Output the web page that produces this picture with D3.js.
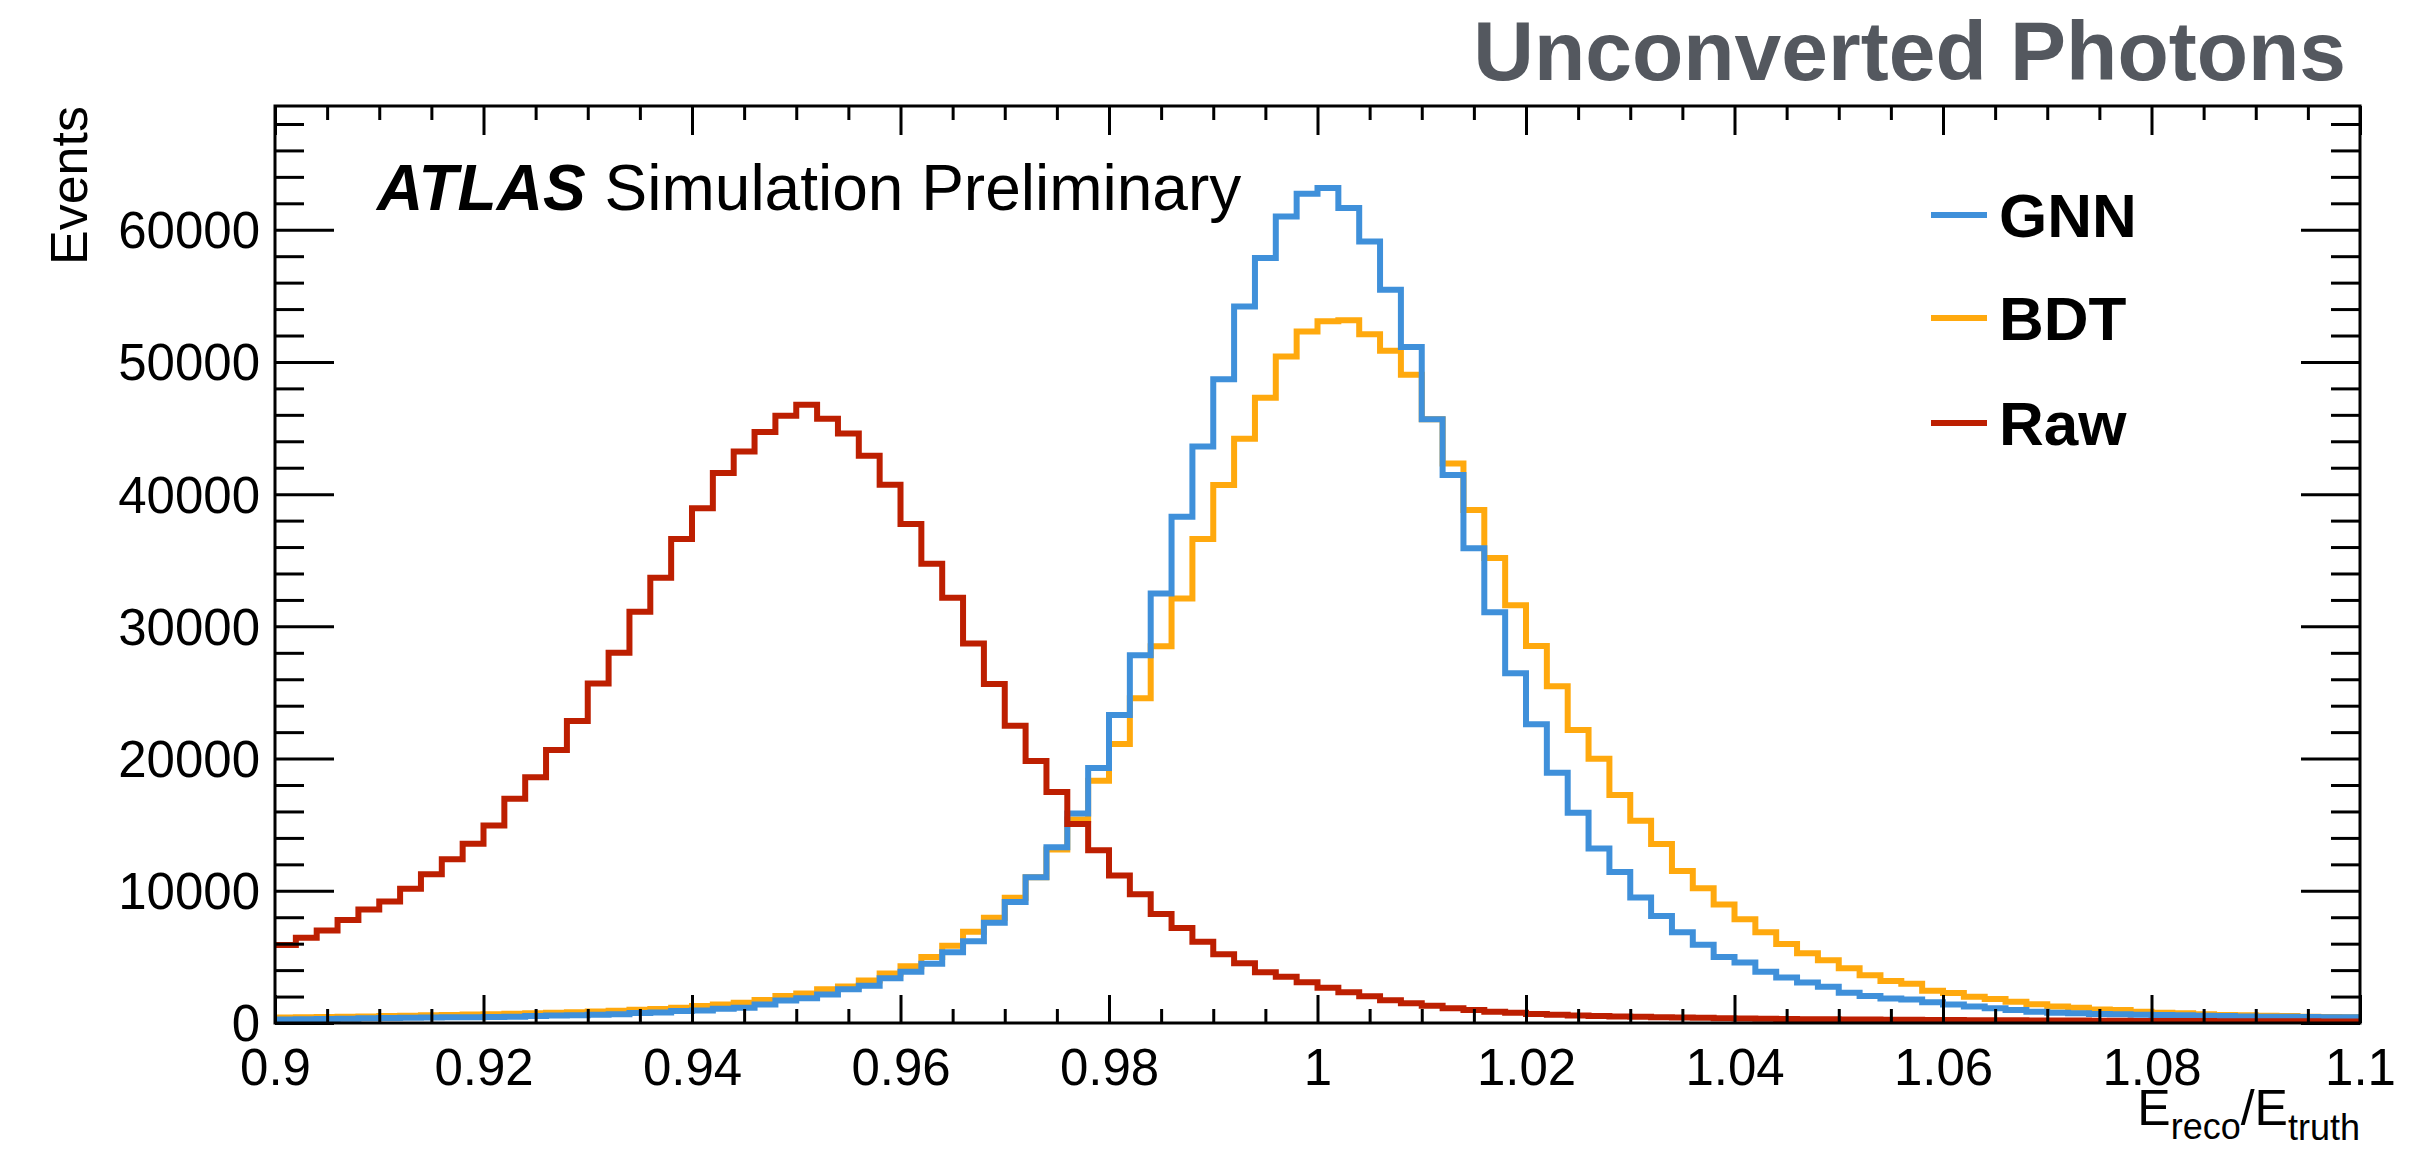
<!DOCTYPE html>
<html>
<head>
<meta charset="utf-8">
<script src="https://cdn.jsdelivr.net/npm/d3@7"></script>
<style>
  html, body { margin: 0; padding: 0; background: #ffffff; }
  svg text { font-family: "Liberation Sans", Arial, Helvetica, sans-serif; }
</style>
</head>
<body>
<svg id="chart" width="2412" height="1155"></svg>
<script>
// ---------------- data ----------------
const binStart = 0.9;
const binWidth = 0.002;
const nBins = 100;

const seriesNames = ["GNN", "BDT", "Raw"];
const seriesColors = ["#3f90da", "#ffa90e", "#bd1f01"];

const gnnValues = [
  270, 290, 310, 330, 350, 380, 400, 410, 430, 440,
  450, 470, 530, 560, 580, 630, 660, 760, 800, 900,
  950, 1070, 1150, 1400, 1700, 1880, 2160, 2550, 2810, 3390,
  3870, 4480, 5350, 6190, 7580, 9160, 11030, 13290, 15850, 19280,
  23300, 27820, 32480, 38300, 43600, 48700, 54200, 57860, 61010, 62730,
  63150, 61640, 59120, 55460, 51130, 45670, 41450, 35900, 31070, 26460,
  22590, 18920, 15900, 13190, 11430, 9500, 8090, 6860, 5910, 4990,
  4570, 3870, 3450, 3060, 2740, 2290, 2040, 1860, 1780, 1570,
  1390, 1240, 1110, 980, 860, 780, 730, 680, 660, 630,
  610, 580, 550, 530, 500, 480, 470, 450, 440, 430
];

const bdtValues = [
  420, 440, 460, 480, 500, 530, 550, 580, 610, 640,
  670, 700, 740, 780, 820, 870, 920, 1000, 1060, 1160,
  1280, 1400, 1540, 1740, 2040, 2230, 2550, 2760, 3220, 3750,
  4300, 5000, 5850, 6900, 7970, 9480, 11030, 13130, 15400, 18320,
  21100, 24570, 28500, 32100, 36600, 40700, 44200, 47300, 50420, 52310,
  53070, 53150, 52100, 50840, 49030, 45670, 42310, 38800, 35170, 31600,
  28520, 25470, 22160, 19980, 17240, 15300, 13540, 11500, 10200, 8970,
  7840, 6860, 5980, 5280, 4750, 4150, 3620, 3170, 2960, 2440,
  2260, 1990, 1820, 1610, 1410, 1240, 1160, 1030, 980, 860,
  780, 730, 660, 610, 580, 550, 530, 480, 450, 430
];

const rawValues = [
  5900, 6450, 7000, 7800, 8580, 9190, 10160, 11260, 12390, 13550,
  14940, 16970, 18580, 20650, 22840, 25680, 28000, 31100, 33680, 36610,
  38940, 41610, 43230, 44700, 45940, 46770, 45710, 44580, 42900, 40710,
  37740, 34740, 32160, 28710, 25650, 22480, 19810, 17480, 15060, 13070,
  11160, 9730, 8240, 7180, 6140, 5200, 4520, 3840, 3500, 3080,
  2660, 2320, 2030, 1720, 1500, 1300, 1120, 980, 860, 770,
  690, 620, 570, 530, 500, 470, 440, 410, 390, 360,
  340, 320, 310, 290, 280, 270, 260, 250, 240, 230,
  220, 210, 205, 200, 190, 185, 180, 170, 165, 160,
  155, 150, 145, 140, 135, 130, 128, 125, 120, 115
];

const xTickValues = [0.9, 0.92, 0.94, 0.96, 0.98, 1.0, 1.02, 1.04, 1.06, 1.08, 1.1];
const xTickLabels = ["0.9", "0.92", "0.94", "0.96", "0.98", "1", "1.02", "1.04", "1.06", "1.08", "1.1"];
const yTickValues = [0, 10000, 20000, 30000, 40000, 50000, 60000];
const yTickLabels = ["0", "10000", "20000", "30000", "40000", "50000", "60000"];

const titleText = "Unconverted Photons";
const yAxisTitle = "Events";

// ---------------- layout ----------------
const W = 2412, H = 1155;
const plot = { left: 275, right: 2360, top: 106, bottom: 1023 };
const xDomain = [0.9, 1.1];
const yDomain = [0, 69360];

const svg = d3.select("#chart");
svg.append("rect").attr("width", W).attr("height", H).attr("fill", "#ffffff");

const x = d3.scaleLinear().domain(xDomain).range([plot.left, plot.right]);
const y = d3.scaleLinear().domain(yDomain).range([plot.bottom, plot.top]);

const binEdges = d3.range(nBins + 1).map(i => +(binStart + i * binWidth).toFixed(4));

// clip
svg.append("defs").append("clipPath").attr("id", "plotclip")
  .append("rect")
  .attr("x", plot.left).attr("y", plot.top)
  .attr("width", plot.right - plot.left).attr("height", plot.bottom - plot.top);

// histogram step path
function stepPath(vals) {
  const p = d3.path();
  vals.forEach((v, i) => {
    const x0 = x(binEdges[i]), x1 = x(binEdges[i + 1]), yy = y(v);
    if (i === 0) p.moveTo(x0, yy); else p.lineTo(x0, yy);
    p.lineTo(x1, yy);
  });
  return p.toString();
}

const seriesData = [gnnValues, bdtValues, rawValues];
const drawOrder = [1, 0, 2]; // BDT, GNN, Raw
const gHist = svg.append("g").attr("clip-path", "url(#plotclip)");
drawOrder.forEach(k => {
  gHist.append("path")
    .attr("d", stepPath(seriesData[k]))
    .attr("fill", "none")
    .attr("stroke", seriesColors[k])
    .attr("stroke-width", 6)
    .attr("stroke-linejoin", "miter")
    .attr("stroke-linecap", "butt");
});

// ---------------- axes ----------------
const tickStroke = 3;
const xMinor = d3.range(0, 41).map(i => +(0.9 + i * 0.005).toFixed(4)).filter(v => !xTickValues.some(t => Math.abs(t - v) < 1e-6));
const yMinor = d3.range(0, 35).map(i => i * 2000).filter(v => v % 10000 !== 0);

function styleAxis(g) {
  g.select(".domain").remove();
  g.selectAll(".tick line").attr("stroke", "#000").attr("stroke-width", tickStroke);
  g.selectAll(".tick text").attr("fill", "#000");
}

// bottom major with labels
const axB = svg.append("g").attr("transform", `translate(0,${plot.bottom})`)
  .call(d3.axisBottom(x).tickValues(xTickValues)
    .tickFormat((d, i) => xTickLabels[i])
    .tickSizeInner(-28).tickSizeOuter(0).tickPadding(26));
styleAxis(axB);
axB.selectAll(".tick text").attr("font-size", 51).attr("font-family", "Liberation Sans, Arial, sans-serif");

svg.append("g").attr("transform", `translate(0,${plot.bottom})`)
  .call(d3.axisBottom(x).tickValues(xMinor).tickFormat("").tickSizeInner(-14).tickSizeOuter(0))
  .call(styleAxis);

// top
svg.append("g").attr("transform", `translate(0,${plot.top})`)
  .call(d3.axisTop(x).tickValues(xTickValues).tickFormat("").tickSizeInner(-29).tickSizeOuter(0))
  .call(styleAxis);
svg.append("g").attr("transform", `translate(0,${plot.top})`)
  .call(d3.axisTop(x).tickValues(xMinor).tickFormat("").tickSizeInner(-14).tickSizeOuter(0))
  .call(styleAxis);

// left major with labels
const axL = svg.append("g").attr("transform", `translate(${plot.left},0)`)
  .call(d3.axisLeft(y).tickValues(yTickValues)
    .tickFormat((d, i) => yTickLabels[i])
    .tickSizeInner(-59).tickSizeOuter(0).tickPadding(15));
styleAxis(axL);
axL.selectAll(".tick text").attr("font-size", 51).attr("dy", "0.35em");

svg.append("g").attr("transform", `translate(${plot.left},0)`)
  .call(d3.axisLeft(y).tickValues(yMinor).tickFormat("").tickSizeInner(-29).tickSizeOuter(0))
  .call(styleAxis);

// right
svg.append("g").attr("transform", `translate(${plot.right},0)`)
  .call(d3.axisRight(y).tickValues(yTickValues).tickFormat("").tickSizeInner(-59).tickSizeOuter(0))
  .call(styleAxis);
svg.append("g").attr("transform", `translate(${plot.right},0)`)
  .call(d3.axisRight(y).tickValues(yMinor).tickFormat("").tickSizeInner(-29).tickSizeOuter(0))
  .call(styleAxis);

// frame
svg.append("rect")
  .attr("x", plot.left).attr("y", plot.top)
  .attr("width", plot.right - plot.left).attr("height", plot.bottom - plot.top)
  .attr("fill", "none").attr("stroke", "#000").attr("stroke-width", 3);

// ---------------- texts ----------------
// title
svg.append("text")
  .attr("x", 2346).attr("y", 80)
  .attr("text-anchor", "end")
  .attr("font-size", 84).attr("font-weight", "bold")
  .attr("fill", "#54585f")
  .text(titleText);

// ATLAS label
const atlas = svg.append("text")
  .attr("x", 377).attr("y", 210)
  .attr("font-size", 64).attr("font-weight", "bold").attr("font-style", "italic")
  .attr("fill", "#000").text("ATLAS");
const aw = atlas.node().getComputedTextLength();
svg.append("text")
  .attr("x", 377 + aw + 19).attr("y", 210)
  .attr("font-size", 64).attr("fill", "#000")
  .text("Simulation Preliminary");

// y axis title
svg.append("text")
  .attr("transform", `translate(87,${plot.top}) rotate(-90)`)
  .attr("text-anchor", "end")
  .attr("font-size", 52).attr("fill", "#000")
  .text(yAxisTitle);

// x axis title: E_reco / E_truth
const xt = svg.append("text")
  .attr("x", plot.right).attr("y", 1125)
  .attr("text-anchor", "end")
  .attr("font-size", 50).attr("fill", "#000");
xt.append("tspan").text("E");
xt.append("tspan").attr("font-size", 36).attr("dy", 14).text("reco");
xt.append("tspan").attr("dy", -14).text("/E");
xt.append("tspan").attr("font-size", 36).attr("dy", 15).text("truth");

// legend
const legendY = [215, 318, 423];
seriesNames.forEach((name, k) => {
  svg.append("line")
    .attr("x1", 1931).attr("x2", 1987)
    .attr("y1", legendY[k]).attr("y2", legendY[k])
    .attr("stroke", seriesColors[k]).attr("stroke-width", 6);
  svg.append("text")
    .attr("x", 1999).attr("y", legendY[k] + 22)
    .attr("font-size", 62).attr("font-weight", "bold").attr("fill", "#000")
    .text(name);
});
</script>
</body>
</html>
